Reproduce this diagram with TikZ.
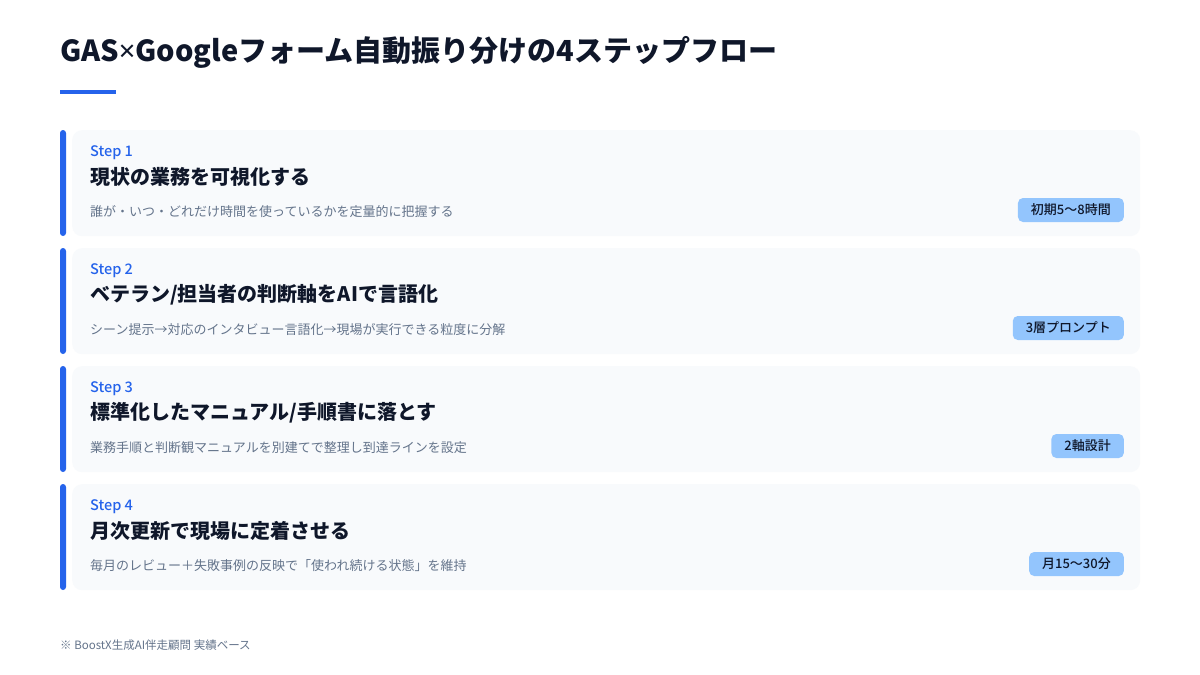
\documentclass[tikz,border=0pt]{standalone}
\usepackage{fontspec}
\usepackage{xcolor}
\usetikzlibrary{positioning}
\setmainfont{Noto Sans CJK JP}
\newfontfamily\jp{Noto Sans CJK JP}
\newfontfamily\jpmed{Noto Sans CJK JP Medium}
\newfontfamily\latin{Noto Sans}

\definecolor{accent}{HTML}{2563EB}
\definecolor{ink}{HTML}{0F172A}
\definecolor{muted}{HTML}{64748B}
\definecolor{cardbg}{HTML}{F8FAFC}
\definecolor{badgebg}{HTML}{93C5FD}

\tikzset{
  card/.style={fill=cardbg, rounded corners=10pt, minimum width=1068pt, minimum height=106pt, anchor=north west, inner sep=0pt},
  bar/.style={fill=accent, rounded corners=3pt},
  steplbl/.style={anchor=west, inner sep=0pt, text=accent, font=\jpmed\fontsize{14.5}{16}\selectfont},
  steptitle/.style={anchor=west, inner sep=0pt, text=ink, font=\jp\fontsize{20}{24}\selectfont\bfseries},
  stepdesc/.style={anchor=west, inner sep=0pt, text=muted, font=\jp\fontsize{13}{16}\selectfont},
  badge/.style={anchor=east, fill=badgebg, text=ink, rounded corners=5pt, inner xsep=13pt, minimum height=24pt, font=\jpmed\fontsize{13}{16}\selectfont}
}

\begin{document}
\begin{tikzpicture}[x=1pt, y=-1pt]
    \useasboundingbox[fill=white] (0,0) rectangle (1200,675);

    % title
    \node[anchor=west, inner sep=0pt, text=ink, font=\jp\fontsize{29}{33}\selectfont\bfseries] (title) at (60,52) {GAS{\latin\bfseries ×}Googleフォーム自動振り分けの4ステップフロー};
    \fill[accent] (60,90) rectangle (116,94);

    % Step 1
    \node[card] (c1) at (72,130) {};
    \fill[bar] (60,130) rectangle (66,236);
    \node[steplbl] (s1) at (90,153) {Step 1};
    \node[steptitle] (t1) at (90,177) {現状の業務を可視化する};
    \node[stepdesc] (d1) at (90,212) {誰が・いつ・どれだけ時間を使っているかを定量的に把握する};
    \node[badge] (b1) at (1124,210) {初期5〜8時間};

    % Step 2
    \node[card] (c2) at (72,248) {};
    \fill[bar] (60,248) rectangle (66,354);
    \node[steplbl] (s2) at (90,271) {Step 2};
    \node[steptitle] (t2) at (90,295) {ベテラン/担当者の判断軸をAIで言語化};
    \node[stepdesc] (d2) at (90,330) {シーン提示→対応のインタビュー言語化→現場が実行できる粒度に分解};
    \node[badge] (b2) at (1124,328) {3層プロンプト};

    % Step 3
    \node[card] (c3) at (72,366) {};
    \fill[bar] (60,366) rectangle (66,472);
    \node[steplbl] (s3) at (90,389) {Step 3};
    \node[steptitle] (t3) at (90,413) {標準化したマニュアル/手順書に落とす};
    \node[stepdesc] (d3) at (90,448) {業務手順と判断観マニュアルを別建てで整理し到達ラインを設定};
    \node[badge] (b3) at (1124,446) {2軸設計};

    % Step 4
    \node[card] (c4) at (72,484) {};
    \fill[bar] (60,484) rectangle (66,590);
    \node[steplbl] (s4) at (90,507) {Step 4};
    \node[steptitle] (t4) at (90,531) {月次更新で現場に定着させる};
    \node[stepdesc] (d4) at (90,566) {毎月のレビュー＋失敗事例の反映で「使われ続ける状態」を維持};
    \node[badge] (b4) at (1124,564) {月15〜30分};

    % footnote
    \node[anchor=west, inner sep=0pt, text=muted, font=\jp\fontsize{11.5}{13}\selectfont] (note) at (60,645) {※ BoostX生成AI伴走顧問 実績ベース};
\end{tikzpicture}
\end{document}
